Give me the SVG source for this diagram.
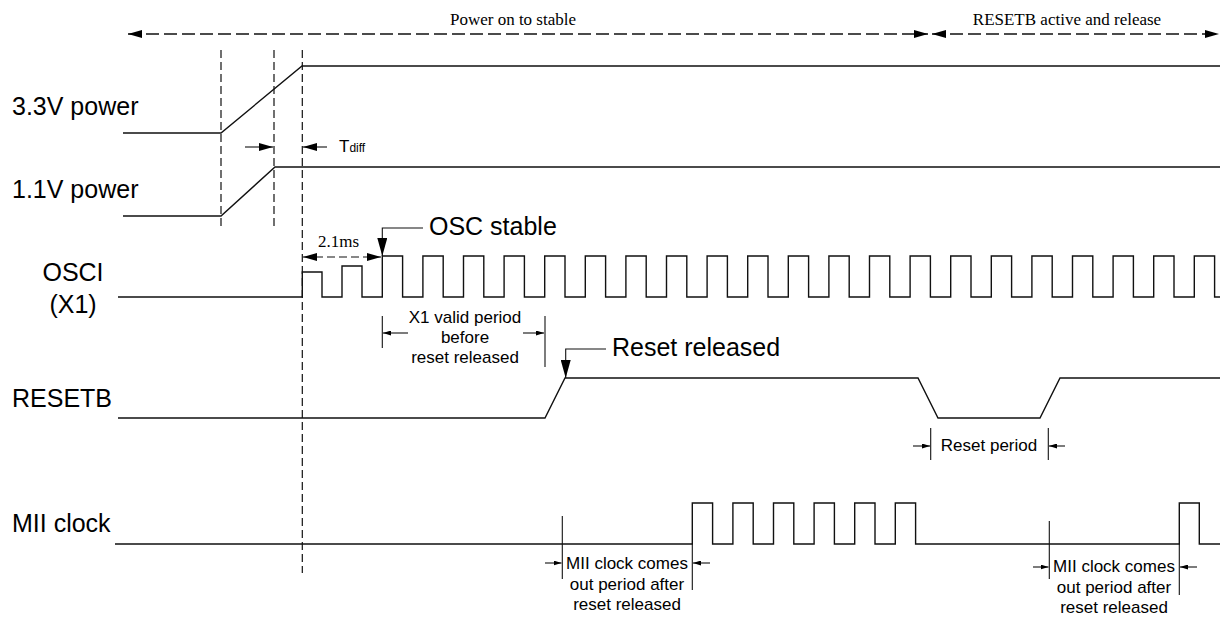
<svg xmlns="http://www.w3.org/2000/svg" width="1222" height="620" viewBox="0 0 1222 620">
<defs>
<marker id="big" markerUnits="userSpaceOnUse" markerWidth="18" markerHeight="10" refX="18" refY="5" orient="auto"><path d="M0,0 L18,5 L0,10 z" fill="#000"/></marker>
<marker id="med" markerUnits="userSpaceOnUse" markerWidth="14" markerHeight="8" refX="14" refY="4" orient="auto-start-reverse"><path d="M0,0 L14,4 L0,8 z" fill="#000"/></marker>
<marker id="sm" markerUnits="userSpaceOnUse" markerWidth="8" markerHeight="5" refX="8" refY="2.5" orient="auto"><path d="M0,0 L8,2.5 L0,5 z" fill="#000"/></marker>
</defs>
<style>
.sig{fill:none;stroke:#111;stroke-width:1.4}
.thin{fill:none;stroke:#111;stroke-width:1.1}
.vd{fill:none;stroke:#111;stroke-width:1.2;stroke-dasharray:8 4}
.td{fill:none;stroke:#111;stroke-width:1.3;stroke-dasharray:13 5}
.lab{font-family:"Liberation Sans",Arial,sans-serif;font-size:25px;fill:#000}
.note{font-family:"Liberation Sans",Arial,sans-serif;font-size:17px;fill:#000}
.ser{font-family:"Liberation Serif","Times New Roman",serif;font-size:17px;fill:#000}
</style>
<rect width="1222" height="620" fill="#fff"/>

<g id="phases">
<text class="ser" x="513" y="25" text-anchor="middle">Power on to stable</text>
<text class="ser" x="1067" y="25" text-anchor="middle">RESETB active and release</text>
</g>

<g id="guides">
<line class="vd" x1="221" y1="50" x2="221" y2="228"/>
<line class="vd" x1="274" y1="50" x2="274" y2="228"/>
<line class="vd" x1="302.3" y1="50" x2="302.3" y2="573"/>
</g>

<g id="sig-3v3">
<text class="lab" x="12" y="115">3.3V power</text>
<path class="sig" d="M123,133 H221 L302,66 H1220"/>
</g>

<g id="sig-1v1">
<text class="lab" x="12" y="198">1.1V power</text>
<path class="sig" d="M123,216 H221 L275,167 H1220"/>
</g>

<g id="sig-osci">
<text class="lab" x="73" y="281" text-anchor="middle">OSCI</text>
<text class="lab" x="73" y="313" text-anchor="middle">(X1)</text>
<path class="sig" d="M118,297 H302.3 V272 H322 V297 H342 V266 H362 V297 H382.3 V256 h20.3 V297 h20.3 V256 h20.3 V297 h20.3 V256 h20.3 V297 h20.3 V256 h20.3 V297 h20.3 V256 h20.3 V297 h20.3 V256 h20.3 V297 h20.3 V256 h20.3 V297 h20.3 V256 h20.3 V297 h20.3 V256 h20.3 V297 h20.3 V256 h20.3 V297 h20.3 V256 h20.3 V297 h20.3 V256 h20.3 V297 h20.3 V256 h20.3 V297 h20.3 V256 h20.3 V297 h20.3 V256 h20.3 V297 h20.3 V256 h20.3 V297 h20.3 V256 h20.3 V297 h20.3 V256 h20.3 V297 h20.3 V256 h20.3 V297 h20.3 V256 h20.3 V297 h20.3 V256 h20.3 V297 H1220"/>
</g>

<g id="sig-resetb">
<text class="lab" x="12" y="407">RESETB</text>
<path class="sig" d="M118,418 H545 L565,378 H918 L938,418 H1040 L1060,378 H1220"/>
</g>

<g id="sig-mii">
<text class="lab" x="12" y="532">MII clock</text>
<path class="sig" d="M115,544 H692.3 V503 h20.3 V544 h20.3 V503 h20.3 V544 h20.3 V503 h20.3 V544 h20.3 V503 h20.3 V544 h20.3 V503 h20.3 V544 h20.3 V503 h20.3 V544 H1179.3 V503 H1199.3 V544 H1220"/>
</g>

<g id="connectors">
<line class="td" x1="128" y1="34" x2="928" y2="34" marker-start="url(#med)" marker-end="url(#med)"/>
<line class="td" x1="932" y1="34" x2="1219" y2="34" marker-start="url(#med)" marker-end="url(#med)"/>
<line class="thin" x1="245" y1="147" x2="273" y2="147" marker-end="url(#med)"/>
<line class="thin" x1="327" y1="147" x2="303" y2="147" marker-end="url(#med)"/>
<line class="vd" x1="303" y1="257" x2="381" y2="257" marker-start="url(#med)" marker-end="url(#med)"/>
<polyline class="thin" points="423,228 382.3,228 382.3,256" marker-end="url(#big)"/>
<polyline class="thin" points="606,349 565.7,349 565.7,378" marker-end="url(#big)"/>
<line class="thin" x1="382.3" y1="316" x2="382.3" y2="348"/>
<line class="thin" x1="545" y1="316" x2="545" y2="367"/>
<line class="thin" x1="408" y1="333" x2="383" y2="333" marker-end="url(#sm)"/>
<line class="thin" x1="523" y1="333" x2="544" y2="333" marker-end="url(#sm)"/>
<line class="thin" x1="930.7" y1="428" x2="930.7" y2="460"/>
<line class="thin" x1="1048.3" y1="428" x2="1048.3" y2="460"/>
<line class="thin" x1="913" y1="446" x2="930" y2="446" marker-end="url(#sm)"/>
<line class="thin" x1="1065" y1="446" x2="1049" y2="446" marker-end="url(#sm)"/>
<line class="thin" x1="562.3" y1="516" x2="562.3" y2="579"/>
<line class="thin" x1="692.3" y1="544" x2="692.3" y2="590"/>
<line class="thin" x1="545" y1="563" x2="561.5" y2="563" marker-end="url(#sm)"/>
<line class="thin" x1="710" y1="563" x2="693" y2="563" marker-end="url(#sm)"/>
<line class="thin" x1="1049.3" y1="521" x2="1049.3" y2="579"/>
<line class="thin" x1="1179.3" y1="544" x2="1179.3" y2="595"/>
<line class="thin" x1="1033" y1="567" x2="1048.5" y2="567" marker-end="url(#sm)"/>
<line class="thin" x1="1197" y1="567" x2="1180" y2="567" marker-end="url(#sm)"/>
</g>

<g id="labels">
<text class="note" x="339" y="152">T<tspan font-size="12">diff</tspan></text>
<text class="ser" x="318" y="247">2.1ms</text>
<text class="lab" x="429" y="235">OSC stable</text>
<text class="note" x="465" y="323" text-anchor="middle">X1 valid period</text>
<text class="note" x="465" y="343" text-anchor="middle">before</text>
<text class="note" x="465" y="363" text-anchor="middle">reset released</text>
<text class="lab" x="612" y="356">Reset released</text>
<text class="note" x="989" y="451" text-anchor="middle">Reset period</text>
<text class="note" x="627" y="569" text-anchor="middle">MII clock comes</text>
<text class="note" x="627" y="590" text-anchor="middle">out period after</text>
<text class="note" x="627" y="610" text-anchor="middle">reset released</text>
<text class="note" x="1114" y="572" text-anchor="middle">MII clock comes</text>
<text class="note" x="1114" y="593" text-anchor="middle">out period after</text>
<text class="note" x="1114" y="613" text-anchor="middle">reset released</text>
</g>
</svg>
